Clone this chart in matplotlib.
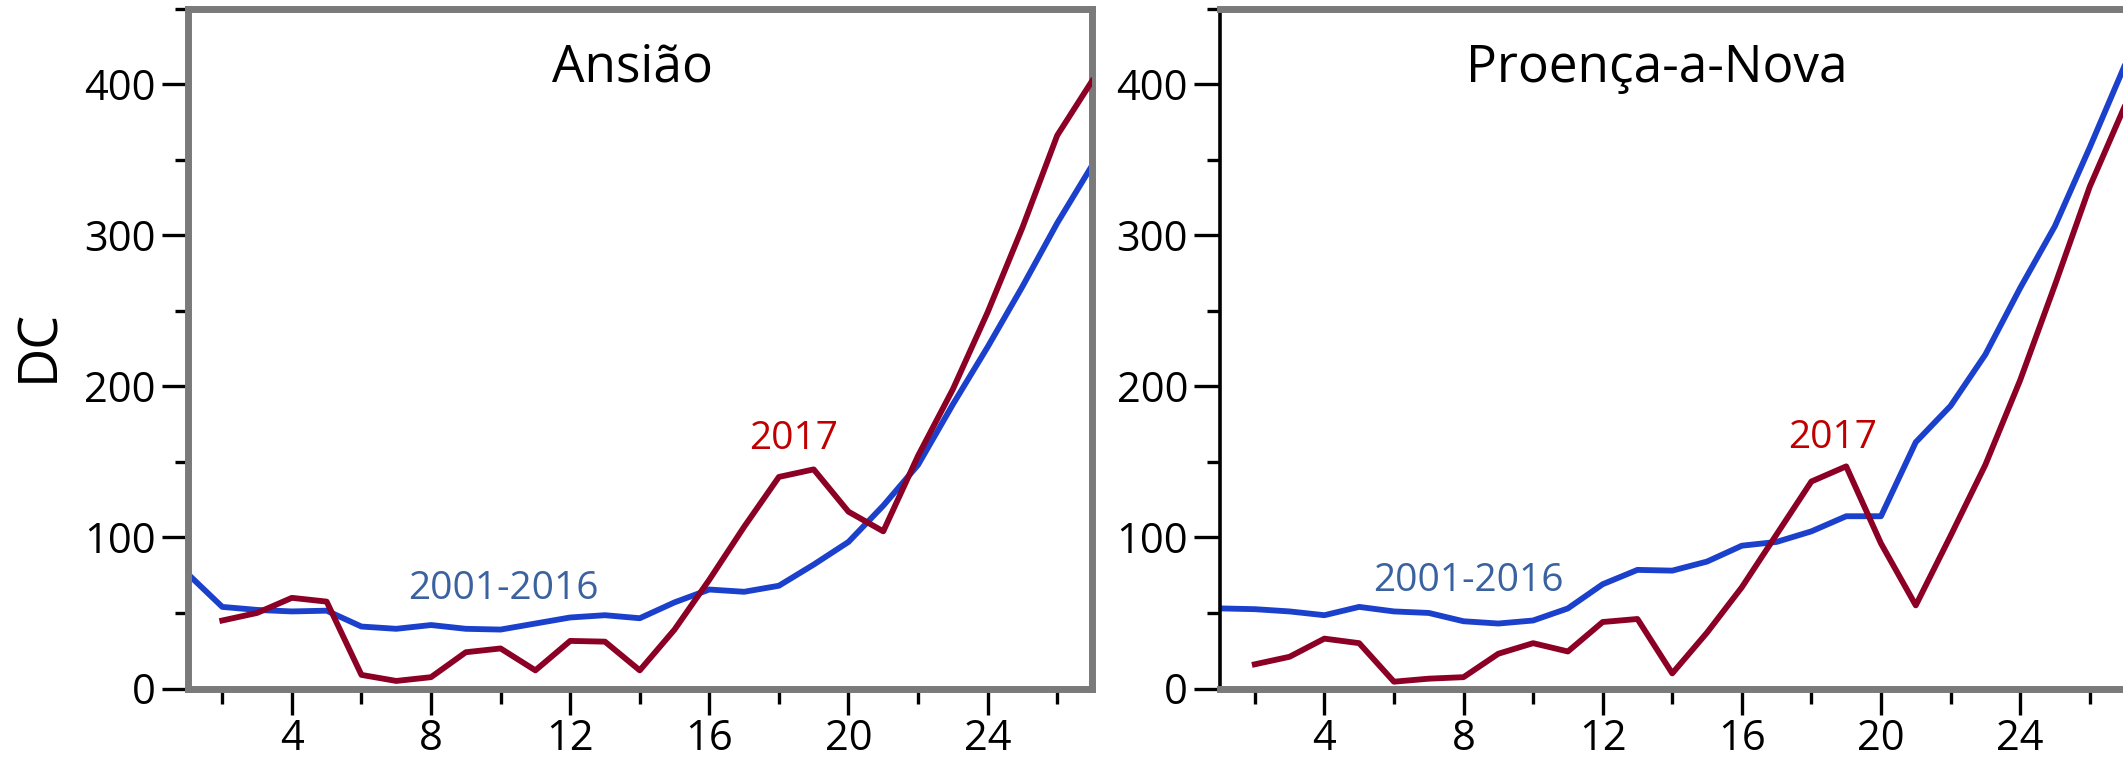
import matplotlib
matplotlib.use("Agg")
import matplotlib.pyplot as plt
import numpy as np
from matplotlib.ticker import FixedLocator

plt.rcParams['font.family'] = ['Open Sans', 'DejaVu Sans']

days = list(range(1, 28))

# Ansião
ans_mean = [76, 54, 52, 51, 51.5, 41, 39.5, 42, 39.5, 39, 43, 47, 48.5, 46.5,
            57, 65.5, 64, 68, 82, 97, 121, 148, 188, 226, 266, 308, 346]
ans_2017 = [np.nan, 45, 50, 60, 57.5, 9, 5, 7.5, 24, 26.5, 12, 31.5, 31, 12,
            39, 72, 107, 140, 145, 117, 104, 154, 198, 249, 305, 366, 402]

# Proença-a-Nova
pan_mean = [53, 52.5, 51, 48.5, 54, 51, 50, 44.5, 43, 45, 53, 69, 78.5, 78,
            84, 94.5, 97, 104, 114, 114, 163, 187, 221, 265, 306, 358, 412]
pan_2017 = [np.nan, 16, 21, 33, 30, 4.5, 6.5, 7.5, 23, 30, 24.5, 44, 46, 10,
            37, 67, 102, 137, 147, 96, 55, 101, 148, 204, 267, 332, 385]

titles = ["Ansião", "Proença-a-Nova"]
series_label_mean = "2001-2016"
series_label_2017 = "2017"
ylabel = "DC"

BLUE = "#1b40cc"
RED = "#8b0024"
BLUE_TXT = "#3a62a0"
RED_TXT = "#c00000"
GRAY = "#7a7a7a"

W, H = 2123, 761
fig = plt.figure(figsize=(W / 100, H / 100), dpi=100)

ax_w = 904.5 / W
ax_h = 680 / H
ax_b = (H - 688.5) / H
ax1 = fig.add_axes([187.5 / W, ax_b, ax_w, ax_h])
ax2 = fig.add_axes([1220 / W, ax_b, ax_w, ax_h])

panels = [
    (ax1, ans_mean, ans_2017, titles[0], 0.492, (10.08, 58.9), (18.43, 158.7)),
    (ax2, pan_mean, pan_2017, titles[1], 0.483, (8.14, 64.6), (18.6, 159.0)),
]

for ax, mean, y17, title, tx, pos_mean, pos_17 in panels:
    ax.plot(days, mean, color=BLUE, lw=4.2, solid_joinstyle='round', zorder=2)
    ax.plot(days, y17, color=RED, lw=4.2, solid_joinstyle='round', zorder=3)
    ax.set_xlim(1, 27)
    ax.set_ylim(0, 450)
    ax.yaxis.set_major_locator(FixedLocator([0, 100, 200, 300, 400]))
    ax.yaxis.set_minor_locator(FixedLocator([50, 150, 250, 350, 450]))
    ax.xaxis.set_major_locator(FixedLocator([4, 8, 12, 16, 20, 24]))
    ax.xaxis.set_minor_locator(FixedLocator([2, 6, 10, 14, 18, 22, 26]))
    ax.tick_params(axis='both', which='major', direction='out', width=2.4,
                   color='black', labelsize=30, length=19)
    ax.tick_params(axis='y', which='major', pad=4)
    ax.tick_params(axis='x', which='major', pad=2)
    ax.tick_params(axis='y', which='minor', direction='out', width=2.4,
                   color='black', length=9.5)
    ax.tick_params(axis='x', which='minor', direction='out', width=2.4,
                   color='black', length=11)
    for s in ax.spines.values():
        s.set_color(GRAY)
        s.set_linewidth(5)
    ax.text(tx, 0.892, title, transform=ax.transAxes, ha='center',
            va='baseline', fontsize=37, color='black')
    ax.text(pos_mean[0], pos_mean[1], series_label_mean, ha='center',
            va='baseline', fontsize=28, color=BLUE_TXT, zorder=4)
    ax.text(pos_17[0], pos_17[1], series_label_2017, ha='center',
            va='baseline', fontsize=28, color=RED_TXT, zorder=4)

ax2.spines['left'].set_color('black')
ax2.spines['left'].set_linewidth(2.6)
ax2.spines['right'].set_linewidth(1.5)

fig.text(38.5 / W, 1 - 345 / H, ylabel, rotation=90, ha='center',
         va='center', fontsize=39, color='black')

fig.savefig("out.png", dpi=100)
